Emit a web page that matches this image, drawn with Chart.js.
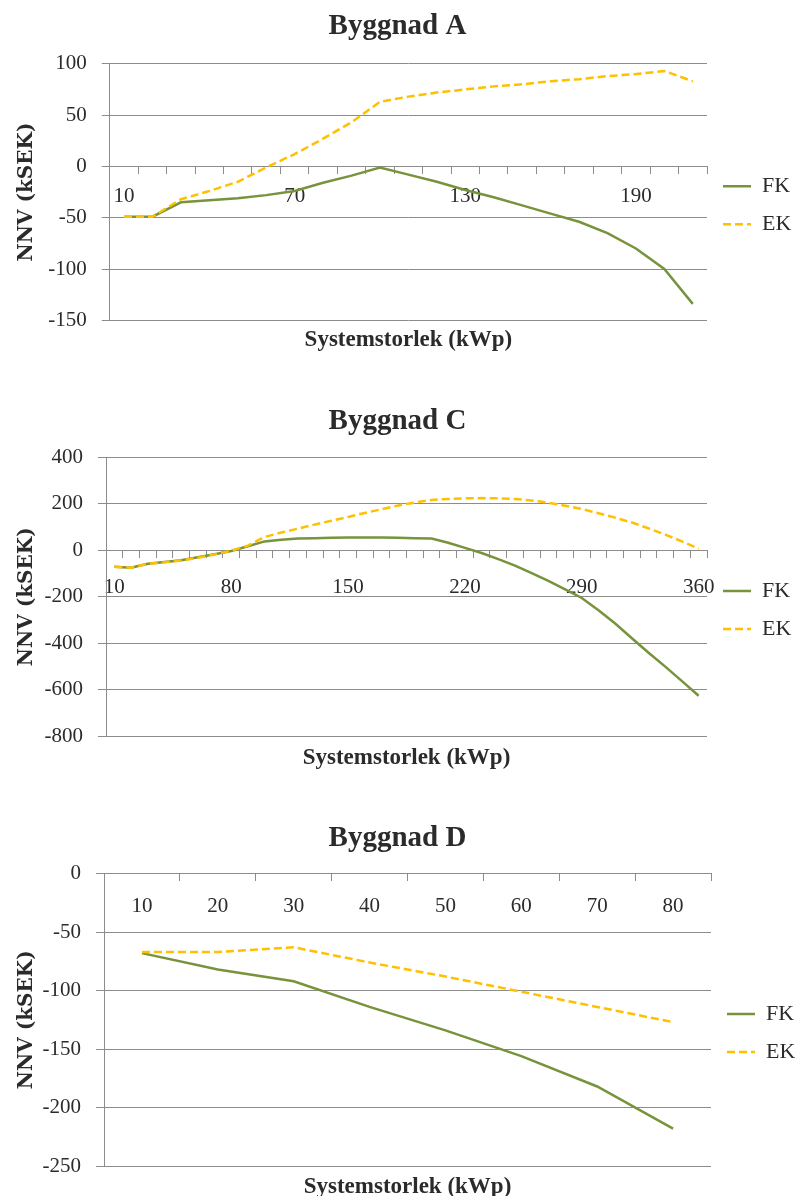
<!DOCTYPE html>
<html>
<head>
<meta charset="utf-8">
<script src="https://cdn.jsdelivr.net/npm/chart.js@4.4.0/dist/chart.umd.min.js"></script>
<style>
    body { margin: 0; background: #fff; overflow: hidden; }
    canvas { position: absolute; left: 0; }
</style>
</head>
<body>
<canvas id="g_a" width="795" height="360" style="top:0px"></canvas>
<canvas id="g_c" width="795" height="410" style="top:380px"></canvas>
<canvas id="g_d" width="795" height="410" style="top:800px"></canvas>
<script>
// Byggnad A
var storlekA = [10, 20, 30, 40, 50, 60, 70, 80, 90, 100, 110, 120, 130, 140, 150, 160, 170, 180, 190, 200, 210];
var fkA = [-49, -49, -35, -33, -31, -28, -24, -16, -9, -1, -8, -15, -23, -30, -38, -46, -54, -65, -80, -100, -134];
var ekA = [-49, -49, -32, -24, -15, -1, 12, 27, 43, 63, 68, 72, 75, 78, 80, 83, 85, 88, 90, 93, 83];

// Byggnad C
var storlekC = [10, 20, 30, 40, 50, 60, 70, 80, 90, 100, 110, 120, 130, 140, 150, 160, 170, 180,
                190, 200, 210, 220, 230, 240, 250, 260, 270, 280, 290, 300, 310, 320, 330, 340, 350, 360];
var fkC = [-71, -75, -58, -51, -43, -30, -17, -3, 17, 38, 45, 50, 52, 54, 55, 55, 55, 54,
           52, 50, 32, 10, -12, -38, -66, -98, -132, -168, -205, -258, -315, -378, -440, -500, -562, -625];
var ekC = [-71, -75, -58, -52, -44, -32, -18, -2, 20, 57, 76, 93, 110, 127, 143, 160, 176, 192,
           205, 216, 220, 223, 224, 223, 220, 214, 204, 191, 177, 159, 140, 119, 94, 67, 38, 6];

// Byggnad D
var storlekD = [10, 20, 30, 40, 50, 60, 70, 80];
var fkD = [-68, -82, -92, -114, -134, -156, -182, -218];
var ekD = [-67, -67, -63, -76, -88, -101, -114, -127];

var serie_fk = 'FK';
var serie_ek = 'EK';
var titulo_x = 'Systemstorlek (kWp)';
var titulo_y = 'NNV (kSEK)';

var gris = '#8c8c8c';
var texto = '#2b2b2b';
var serif = 'Liberation Serif';

grafica('g_a', 'Byggnad A', storlekA, fkA, ekA, -150, 100, 50, 6,
    {left: 109.8, legendW: 88, titleTop: 9, titleBottom: 20, subTop: 6.4, padBottom: 5.7, tickPad: 10});
grafica('g_c', 'Byggnad C', storlekC, fkC, ekC, -800, 400, 200, 7,
    {left: 106, legendW: 88, titleTop: 23.7, titleBottom: 18.6, subTop: 8, padBottom: 17.9, tickPad: 18});
grafica('g_d', 'Byggnad D', storlekD, fkD, ekD, -250, 0, 50, 1,
    {left: 104, legendW: 84, titleTop: 20.7, titleBottom: 18.1, subTop: 7, padBottom: 9.4, tickPad: 13});

function grafica(id, titulo, labels, fk, ek, yMin, yMax, yStep, cadaN, geo) {
    var ctx = document.getElementById(id).getContext('2d');
    var myChart = new Chart(ctx, {
        type: 'line',
        data: {
            labels: labels,
            datasets: [{
                label: serie_fk,
                data: fk,
                borderColor: '#77933C',
                backgroundColor: '#77933C',
                borderWidth: 2.5,
                pointRadius: 0,
                fill: false,
                order: 1
            }, {
                label: serie_ek,
                data: ek,
                borderColor: '#FFC000',
                backgroundColor: '#FFC000',
                borderWidth: 2.5,
                borderDash: [8, 4],
                pointRadius: 0,
                fill: false,
                order: 0
            }]
        },
        options: {
            responsive: false,
            animation: false,
            devicePixelRatio: 1,
            layout: {
                padding: {left: 0, right: 0, top: 0, bottom: geo.padBottom}
            },
            plugins: {
                title: {
                    display: true,
                    text: titulo,
                    color: texto,
                    font: {family: serif, size: 29, weight: 'bold'},
                    padding: {top: geo.titleTop, bottom: geo.titleBottom}
                },
                subtitle: {
                    display: true,
                    position: 'bottom',
                    fullSize: false,
                    text: titulo_x,
                    color: texto,
                    font: {family: serif, size: 23, weight: 'bold'},
                    padding: {top: geo.subTop, bottom: 0}
                },
                legend: {
                    position: 'right',
                    fullSize: false,
                    maxWidth: geo.legendW,
                    title: {display: true, text: '', font: {size: 12}, padding: 6},
                    labels: {
                        usePointStyle: true,
                        pointStyle: 'line',
                        pointStyleWidth: 28,
                        padding: 16,
                        color: texto,
                        font: {family: serif, size: 22},
                        sort: function (a, b) { return a.datasetIndex - b.datasetIndex; },
                        // linea del dataset (grosor y guiones) en la leyenda
                        generateLabels: function (chart) {
                            var items = Chart.defaults.plugins.legend.labels.generateLabels(chart);
                            items.forEach(function (it) {
                                var ds = chart.data.datasets[it.datasetIndex];
                                it.lineDash = ds.borderDash || [];
                                it.lineWidth = ds.borderWidth;
                                it.strokeStyle = ds.borderColor;
                            });
                            return items;
                        }
                    }
                },
                tooltip: {enabled: false}
            },
            scales: {
                x: {
                    position: {y: 0},
                    offset: true,
                    grid: {offset: true, drawOnChartArea: false, drawTicks: true, tickLength: 7, color: gris},
                    border: {color: gris, width: 1},
                    ticks: {
                        autoSkip: false,
                        maxRotation: 0,
                        padding: geo.tickPad,
                        color: texto,
                        font: {family: serif, size: 21},
                        callback: function (v, i) {
                            return i % cadaN === 0 ? this.getLabelForValue(v) : '';
                        }
                    },
                    afterFit: function (s) { s.height = 0; }
                },
                y: {
                    min: yMin,
                    max: yMax,
                    ticks: {stepSize: yStep, padding: 15, color: texto, font: {family: serif, size: 21}},
                    grid: {color: gris, tickLength: 8},
                    border: {color: gris},
                    title: {
                        display: true,
                        text: titulo_y,
                        color: texto,
                        font: {family: 'DejaVu Serif', size: 20, weight: 'bold'},
                        padding: {top: 15, bottom: 0}
                    },
                    afterFit: function (s) { s.width = geo.left; }
                }
            }
        }
    });
}
</script>
</body>
</html>
